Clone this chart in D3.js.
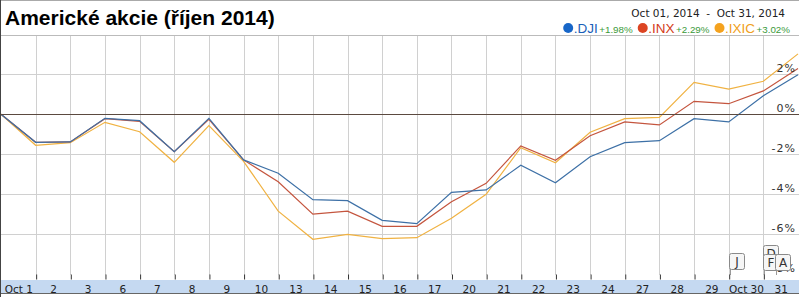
<!DOCTYPE html>
<html><head><meta charset="utf-8">
<script src="https://cdn.jsdelivr.net/npm/d3@7/dist/d3.min.js"></script>
<style>
html,body{margin:0;padding:0;background:#fff;}
svg{display:block;}
</style></head>
<body>
<svg id="chart" width="799" height="297"></svg>
<script>
const title = "Americké akcie (říjen 2014)";
const dateRange = "Oct 01, 2014  -  Oct 31, 2014";
const categories = ["Oct 1","2","3","6","7","8","9","10","13","14","15","16","17","20","21","22","23","24","27","28","29","Oct 30","31"];
// cumulative % change, first value = previous close (Sep 30)
const dji  = [0,-1.40,-1.38,-0.20,-0.32,-1.87,-0.20,-2.28,-2.95,-4.27,-4.32,-5.30,-5.47,-3.90,-3.78,-2.55,-3.42,-2.12,-1.42,-1.32,-0.22,-0.38,0.93,1.98];
const inx  = [0,-1.40,-1.38,-0.22,-0.35,-1.87,-0.25,-2.28,-3.37,-4.99,-4.84,-5.60,-5.60,-4.37,-3.45,-1.58,-2.30,-1.07,-0.38,-0.53,0.65,0.53,1.17,2.29];
const ixic = [0,-1.55,-1.42,-0.40,-0.87,-2.40,-0.57,-2.35,-4.84,-6.25,-6.00,-6.22,-6.17,-5.20,-4.00,-1.67,-2.42,-0.90,-0.22,-0.15,1.60,1.26,1.65,3.02];
const seriesNames = [".DJI",".INX",".IXIC"];
const seriesChanges = ["+1.98%","+2.29%","+3.02%"];
const yTicks = [2,0,-2,-4,-6,-8];
const flagLetters = ["J","D","F","A"];

const lineColors = ["#3d70a6","#c4553e","#f0b242"];
const dotColors  = ["#1766c8","#dc4422","#f4a21e"];
const textColors = ["#1b5fb8","#d43d1a","#f0a020"];

const svg = d3.select("#chart");
const W = 799, H = 297;
const plotTop = 35, plotBottom = 275;

const x = d3.scaleLinear().domain([0, categories.length]).range([1, 798]);
const y = d3.scaleLinear().domain([0, 2]).range([114.3, 74.3]);

// borders
svg.append("rect").attr("x",0).attr("y",0).attr("width",W).attr("height",H).attr("fill","#fff");
svg.append("line").attr("x1",0).attr("x2",W).attr("y1",0.5).attr("y2",0.5).attr("stroke","#aaa");
svg.append("line").attr("x1",0).attr("x2",W).attr("y1",plotTop+0.5).attr("y2",plotTop+0.5).attr("stroke","#bbb");

// title
svg.append("text").attr("x",5).attr("y",25).text(title)
  .attr("font-family","Liberation Sans, Arial, sans-serif").attr("font-weight","bold")
  .attr("font-size",21).attr("fill","#000");

// date range
svg.append("text").attr("x",785).attr("y",16.5).attr("text-anchor","end").text(dateRange)
  .attr("font-family","DejaVu Sans, Verdana, sans-serif").attr("font-size",10.5).attr("fill","#222")
  .style("white-space","pre").attr("xml:space","preserve");

// legend laid out right-to-left, ending at x=790
let cx = 790;
const legY = 33;
for (let k = seriesNames.length-1; k >= 0; k--) {
  const ch = svg.append("text").attr("x",cx).attr("y",legY).attr("text-anchor","end")
    .attr("fill","#3a9a3a").attr("font-size",9.8).attr("font-family","Liberation Sans, Arial, sans-serif")
    .text(seriesChanges[k]);
  cx -= ch.node().getComputedTextLength() + 1.5;
  const nm = svg.append("text").attr("x",cx).attr("y",legY).attr("text-anchor","end")
    .attr("fill",textColors[k]).attr("font-size",13.5).attr("font-family","Liberation Sans, Arial, sans-serif")
    .text(seriesNames[k]);
  cx -= nm.node().getComputedTextLength() + 0.5;
  svg.append("circle").attr("cx",cx-5).attr("cy",legY-5).attr("r",5).attr("fill",dotColors[k]);
  cx -= 15;
}

// grid
const g = svg.append("g");
const vTicks = d3.range(1, categories.length);
g.selectAll(".vg").data(vTicks).join("line")
  .attr("x1",d=>Math.round(x(d))+0.5).attr("x2",d=>Math.round(x(d))+0.5)
  .attr("y1",plotTop+1).attr("y2",plotBottom).attr("stroke","#d0d0d0");
g.selectAll(".hg").data(yTicks.filter(d=>d!==0 && d>-8)).join("line")
  .attr("x1",1).attr("x2",W).attr("y1",d=>Math.round(y(d))+0.5).attr("y2",d=>Math.round(y(d))+0.5)
  .attr("stroke","#d0d0d0");

// lines
const line = d3.line().x((d,i)=>x(i)).y(d=>y(d));
[ixic, inx, dji].forEach((s,j)=>{
  const k = 2-j;
  svg.append("path").datum(s).attr("d",line).attr("fill","none")
    .attr("stroke",lineColors[k]).attr("stroke-width",1.2);
});

// zero line
svg.append("line").attr("x1",1).attr("x2",W).attr("y1",Math.round(y(0))+0.5).attr("y2",Math.round(y(0))+0.5)
  .attr("stroke","#5b4a40").attr("stroke-width",1);

// y labels
svg.selectAll(".yl").data(yTicks).join("text")
  .attr("x",796).attr("y",d=>y(d)-2).attr("text-anchor","end")
  .attr("font-family","DejaVu Sans, Verdana, sans-serif").attr("font-size",11)
  .attr("letter-spacing",1).attr("fill","#333")
  .text(d=>(d<0?"-":"")+Math.abs(d)+"%");

// flags (news markers)
const flagPos = {"J":[729,253],"D":[763,245],"F":[763,254],"A":[775,254]};
flagLetters.forEach(t=>{
  const [fx,fy] = flagPos[t];
  const fg = svg.append("g");
  fg.append("line").attr("x1",fx+1.5).attr("x2",fx+1.5).attr("y1",fy+16).attr("y2",plotBottom).attr("stroke","#999");
  fg.append("rect").attr("x",fx+0.5).attr("y",fy+0.5).attr("width",15).attr("height",16).attr("rx",2)
    .attr("fill","#f6f6f6").attr("stroke","#8a8a8a");
  fg.append("text").attr("x",fx+8).attr("y",fy+13).attr("text-anchor","middle")
    .attr("font-family","DejaVu Sans, Verdana, sans-serif").attr("font-size",12).attr("fill","#333").text(t);
});

// x axis band
svg.append("rect").attr("x",1).attr("y",280).attr("width",W-1).attr("height",13).attr("fill","#c5d9f1");
svg.append("line").attr("x1",0).attr("x2",W).attr("y1",293.5).attr("y2",293.5).attr("stroke","#666");

// tick marks via d3 axis
const tickAxis = d3.axisBottom(x).tickValues(vTicks).tickSize(5).tickFormat("");
const ta = svg.append("g").attr("transform",`translate(0,${plotBottom-0.5})`).call(tickAxis);
ta.select(".domain").remove();
ta.selectAll("line").attr("stroke","#333").attr("transform","translate(0.5,0)");

// labels via d3 axis at band centers
const labAxis = d3.axisBottom(x).tickValues(d3.range(categories.length).map(i=>i+0.5))
  .tickSize(0).tickFormat(d=>categories[Math.floor(d)]);
const la = svg.append("g").attr("transform","translate(0,280)").call(labAxis);
la.select(".domain").remove();
la.selectAll("text").attr("font-family","DejaVu Sans, Verdana, sans-serif").attr("font-size",10.5)
  .attr("fill","#222").attr("dy","0.95em");

// left border
svg.append("line").attr("x1",0.5).attr("x2",0.5).attr("y1",0).attr("y2",H).attr("stroke","#444");
</script>
</body></html>
